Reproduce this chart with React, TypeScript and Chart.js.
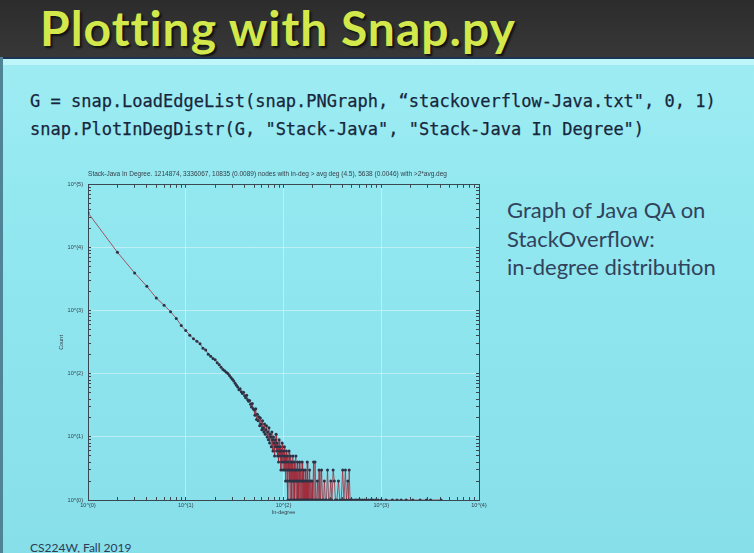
import React, { useEffect, useRef } from "react";
import { Chart, registerables } from "chart.js";

Chart.register(...registerables);

// ---- data ----
const headDegrees = [
  1, 2, 3, 4, 5, 6, 7, 8, 9, 10,
  11, 12, 13, 14, 15, 16, 17, 18, 19, 20,
  21, 22, 23, 24, 25, 26, 27, 28, 29, 30,
  31, 32, 33, 34, 35, 36, 37, 38, 39, 40,
  41, 42, 43, 44, 45, 46, 47, 48, 49, 50,
  51, 52, 53, 54, 55, 56, 57, 58, 59, 60,
  61, 62, 63, 64, 65, 66, 67, 68, 69, 70,
  71, 72, 73, 74, 75, 76, 77, 78, 79, 80,
  81, 82, 83, 84, 85, 86, 87, 88, 89, 90,
  91, 92, 93, 94, 95, 96, 97, 98, 99, 100,
];
const headCounts = [
  36000, 8500, 4000, 2450, 1600, 1230, 970, 760, 585, 490,
  410, 360, 330, 300, 255, 240, 205, 190, 175, 168,
  150, 140, 128, 118, 112, 106, 102, 94, 88, 82,
  77, 71, 66, 62, 56, 58, 52, 49, 51, 45,
  42, 46, 39, 37, 38, 33, 30, 34, 28, 27,
  22, 28, 19, 23, 18, 21, 15, 20, 16, 13,
  18, 14, 12, 16, 11, 13, 15, 10, 12, 9,
  14, 8, 11, 10, 7, 12, 9, 6, 10, 8,
  5, 9, 7, 11, 6, 8, 5, 7, 4, 9,
  6, 5, 7, 3, 6, 4, 8, 5, 3, 6,
];
const tailDegrees = [
  101, 102, 103, 104, 105, 106, 107, 108, 109, 110,
  111, 112, 113, 114, 115, 116, 117, 118, 119, 120,
  121, 122, 123, 124, 125, 126, 127, 128, 129, 130,
  132, 133, 134, 135, 136, 137, 139, 140, 141, 143,
  144, 146, 147, 148, 150, 152, 153, 155, 156, 158,
  160, 161, 163, 165, 167, 169, 171, 173, 175, 177,
  180, 182, 185, 188, 190, 193, 196, 199, 203, 206,
  210, 214, 218, 222, 226, 231, 236, 240, 245, 251,
  257, 262, 268, 275, 282, 290, 297, 305, 313, 322,
  331, 340, 352, 365, 377, 390, 403, 415, 430, 440,
  455, 462, 470, 480, 492, 510, 540, 560, 585, 610,
  640, 670, 700, 740, 780, 820, 870, 930, 1000, 1120,
  1300, 1450, 1600, 1800, 2100, 2500, 2900, 3200, 4100,
];
const tailCounts = [
  4, 7, 3, 5, 2, 4, 6, 3, 2, 5,
  1, 4, 3, 6, 2, 3, 1, 5, 2, 4,
  3, 1, 4, 2, 5, 3, 1, 2, 4, 1,
  3, 2, 5, 1, 3, 2, 4, 1, 2, 3,
  1, 4, 2, 1, 3, 1, 2, 4, 1, 2,
  3, 1, 2, 1, 3, 1, 2, 1, 4, 1,
  2, 1, 3, 1, 2, 1, 2, 1, 4, 1,
  4, 1, 1, 2, 1, 3, 1, 1, 3, 1,
  1, 2, 1, 1, 3, 1, 1, 2, 1, 3,
  2, 1, 1, 2, 1, 1, 3, 1, 3, 1,
  2, 1, 3, 1, 1, 1, 1, 1, 1, 1,
  1, 1, 1, 1, 1, 1, 1, 1, 1, 1,
  1, 1, 1, 1, 1, 1, 1, 1, 1,
];

const xDecades = [1, 10, 100, 1000, 10000];
const yDecades = [1, 10, 100, 1000, 10000, 100000];
const xTickLabels = ["10^{0}", "10^{1}", "10^{2}", "10^{3}", "10^{4}"];
const yTickLabels = ["10^{0}", "10^{1}", "10^{2}", "10^{3}", "10^{4}", "10^{5}"];
const minorSteps = [2, 3, 4, 5, 6, 7, 8, 9];

const plotTitle =
  "Stack-Java In Degree. 1214874, 3336067, 10835 (0.0089) nodes with in-deg > avg deg (4.5), 5638 (0.0046) with >2*avg.deg";
const xTitle = "In-degree";
const yTitle = "Count";

function logTicks(decades: number[]) {
  const out: { value: number }[] = [];
  decades.forEach((d, i) => {
    out.push({ value: d });
    if (i < decades.length - 1) minorSteps.forEach((m) => out.push({ value: d * m }));
  });
  return out;
}

const AXIS = "#3b4852";
const GRID = "rgba(225,245,248,0.55)";
const CHART_FONT = "'Liberation Sans', Arial, sans-serif";
const LABEL = "#34404a";

export default function App() {
  const ref = useRef<HTMLCanvasElement | null>(null);

  useEffect(() => {
    if (!ref.current) return;
    const points = [
      ...headDegrees.map((d, i) => ({ x: d, y: headCounts[i] })),
      ...tailDegrees.map((d, i) => ({ x: d, y: tailCounts[i] })),
    ];
    const gridColor = (decades: number[], lo: number, hi: number) => (ctx: any) => {
      const v = ctx.tick ? ctx.tick.value : null;
      if (v === lo || v === hi) return "transparent";
      return decades.includes(v) ? GRID : "transparent";
    };
    const chart = new Chart(ref.current, {
      type: "line",
      data: {
        datasets: [
          {
            data: points,
            borderColor: "rgba(160,45,60,0.78)",
            borderWidth: 1,
            pointRadius: 1.5,
            pointBorderWidth: 0,
            pointBackgroundColor: "#2c3346",
            pointStyle: "circle",
            tension: 0,
          },
        ],
      },
      options: {
        animation: false,
        responsive: false,
        layout: { padding: { left: 56, right: 275, top: 170, bottom: 36 } },
        plugins: {
          legend: { display: false },
          tooltip: { enabled: false },
          title: {
            display: true,
            text: plotTitle,
            color: LABEL,
            font: { family: CHART_FONT, size: 6.5, weight: "normal" },
            padding: { top: 0, bottom: 7 },
          },
        },
        scales: {
          x: {
            type: "logarithmic",
            position: "bottom",
            min: 1,
            max: 10000,
            afterBuildTicks: (axis: any) => {
              axis.ticks = logTicks(xDecades);
            },
            afterFit: (axis: any) => {
              axis.height = 17;
            },
            ticks: {
              autoSkip: false,
              maxRotation: 0,
              padding: 5,
              color: LABEL,
              font: { family: CHART_FONT, size: 5.5 },
              callback: (v: any) => {
                const i = xDecades.indexOf(Number(v));
                return i >= 0 ? xTickLabels[i] : "";
              },
            },
            grid: {
              color: gridColor(xDecades, 1, 10000),
              tickColor: AXIS,
              tickLength: -3,
              lineWidth: 1,
            },
            border: { display: true, color: AXIS, width: 1 },
            title: {
              display: true,
              text: xTitle,
              color: LABEL,
              font: { family: CHART_FONT, size: 5.5 },
              padding: { top: 0, bottom: 1 },
            },
          },
          x2: {
            type: "logarithmic",
            position: "top",
            min: 1,
            max: 10000,
            afterBuildTicks: (axis: any) => {
              axis.ticks = logTicks(xDecades);
            },
            afterFit: (axis: any) => {
              axis.height = 0;
            },
            ticks: { display: false, autoSkip: false },
            grid: { drawOnChartArea: false, tickColor: AXIS, tickLength: -3 },
            border: { display: true, color: AXIS, width: 1 },
          },
          y: {
            type: "logarithmic",
            position: "left",
            min: 1,
            max: 100000,
            afterBuildTicks: (axis: any) => {
              axis.ticks = logTicks(yDecades);
            },
            afterFit: (axis: any) => {
              axis.width = 32;
            },
            ticks: {
              autoSkip: false,
              padding: 8,
              color: LABEL,
              font: { family: CHART_FONT, size: 5.5 },
              callback: (v: any) => {
                const i = yDecades.indexOf(Number(v));
                return i >= 0 ? yTickLabels[i] : "";
              },
            },
            grid: {
              color: gridColor(yDecades, 1, 100000),
              tickColor: AXIS,
              tickLength: -3,
              lineWidth: 1,
            },
            border: { display: true, color: AXIS, width: 1 },
            title: {
              display: true,
              text: yTitle,
              color: LABEL,
              font: { family: CHART_FONT, size: 5.5 },
              padding: { top: 2, bottom: 0 },
            },
          },
          y2: {
            type: "logarithmic",
            position: "right",
            min: 1,
            max: 100000,
            afterBuildTicks: (axis: any) => {
              axis.ticks = logTicks(yDecades);
            },
            afterFit: (axis: any) => {
              axis.width = 0;
            },
            ticks: { display: false, autoSkip: false },
            grid: { drawOnChartArea: false, tickColor: AXIS, tickLength: -3 },
            border: { display: true, color: AXIS, width: 1 },
          },
        },
      } as any,
    });
    return () => chart.destroy();
  }, []);

  const codeStyle: React.CSSProperties = {
    position: "absolute",
    left: 30,
    fontFamily: "'DejaVu Sans Mono', monospace",
    fontSize: 17,
    lineHeight: "28px",
    color: "#17263c",
    whiteSpace: "pre",
    WebkitTextStroke: "0.25px #17263c",
  };

  return (
    <div
      style={{
        position: "fixed",
        left: 0,
        top: 0,
        width: 754,
        height: 553,
        overflow: "hidden",
        background: "linear-gradient(180deg, #a4eef4 0%, #93e8f0 35%, #87dfea 100%)",
        fontFamily: "Lato, 'Open Sans', sans-serif",
      }}
    >
      <div
        style={{
          position: "absolute",
          left: 0,
          top: 0,
          width: 754,
          height: 57,
          background: "linear-gradient(180deg, #2c2c2c 0%, #383838 100%)",
        }}
      >
        <div
          style={{
            position: "absolute",
            left: 40,
            top: 0,
            fontSize: 48,
            letterSpacing: 1,
            lineHeight: "56px",
            fontWeight: 700,
            color: "#d3e94b",
            textShadow: "2px 2px 2px #111",
            whiteSpace: "nowrap",
          }}
        >
          Plotting with Snap.py
        </div>
      </div>
      <div style={{ position: "absolute", left: 0, top: 57, width: 754, height: 2, background: "#1c3454" }} />
      <div style={{ position: "absolute", left: 0, top: 59, width: 754, height: 6, background: "#bdf5f8" }} />
      <div style={{ position: "absolute", left: 0, top: 57, width: 3, height: 496, background: "#4f8497" }} />

      <div style={{ ...codeStyle, top: 87 }}>
        {"G = snap.LoadEdgeList(snap.PNGraph, \u201cstackoverflow-Java.txt\", 0, 1)"}
      </div>
      <div style={{ ...codeStyle, top: 115 }}>
        {"snap.PlotInDegDistr(G, \"Stack-Java\", \"Stack-Java In Degree\")"}
      </div>

      <div
        style={{
          position: "absolute",
          left: 507,
          top: 196,
          fontSize: 22,
          lineHeight: "28.5px",
          color: "#31425c",
          whiteSpace: "nowrap",
        }}
      >
        <div>Graph of Java QA on</div>
        <div>StackOverflow:</div>
        <div>in-degree distribution</div>
      </div>

      <div
        style={{
          position: "absolute",
          left: 30,
          top: 540,
          fontSize: 12,
          lineHeight: "16px",
          color: "#2c3c55",
          whiteSpace: "nowrap",
        }}
      >
        CS224W, Fall 2019
      </div>

      <canvas
        ref={ref}
        width={754}
        height={553}
        style={{ position: "absolute", left: 0, top: 0, width: 754, height: 553 }}
      />
    </div>
  );
}
